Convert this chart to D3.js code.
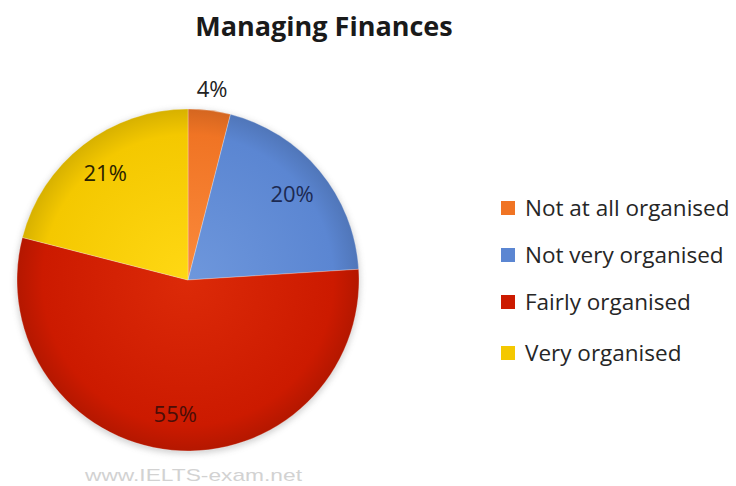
<!DOCTYPE html>
<html>
<head>
<meta charset="utf-8">
<script src="https://cdn.jsdelivr.net/npm/d3@7"></script>
<style>
  html, body { margin: 0; padding: 0; background: #fff; }
  svg { display: block; font-family: "Open Sans", Lato, "DejaVu Sans", sans-serif; }
</style>
</head>
<body>
<svg id="chart" width="736" height="486"></svg>
<script>
// Survey: how organised people are at managing their finances
const categories = ["Not at all organised", "Not very organised", "Fairly organised", "Very organised"];
const values = [4, 20, 55, 21];
const colors = ["#f07424", "#5b86d2", "#cc1a00", "#f4c800"];
const innerColors = ["#fb8a3c", "#6e97dc", "#dc2a08", "#ffd814"];
const labelColors = ["#222222", "#1c2a52", "#4a0e08", "#2a2200"];
const title = "Managing Finances";
const watermark = "www.IELTS-exam.net";

const svg = d3.select("#chart");
const cx = 188, cy = 280, R = 171;

const defs = svg.append("defs");
defs.append("filter").attr("id", "soft")
  .append("feGaussianBlur").attr("stdDeviation", 3);

categories.forEach((c, i) => {
  const g = defs.append("radialGradient").attr("id", "grad" + i)
    .attr("gradientUnits", "userSpaceOnUse")
    .attr("cx", 0).attr("cy", 0).attr("r", R);
  g.append("stop").attr("offset", "0%").attr("stop-color", innerColors[i]);
  g.append("stop").attr("offset", "85%").attr("stop-color", colors[i]);
  g.append("stop").attr("offset", "100%").attr("stop-color", d3.color(colors[i]).darker(0.35));
});

// Title
svg.append("text")
  .attr("x", 324).attr("y", 36)
  .attr("text-anchor", "middle")
  .attr("font-size", 27).attr("font-weight", "bold")
  .attr("fill", "#1a1a1a")
  .text(title);

const pie = d3.pie().sort(null).value(d => d)(values);
const arc = d3.arc().innerRadius(0).outerRadius(R);

const g = svg.append("g").attr("transform", `translate(${cx},${cy})`);

// faint shadow around the pie
g.append("circle").attr("r", R + 1).attr("cy", 2)
  .attr("fill", "#999").attr("opacity", 0.45).attr("filter", "url(#soft)");

g.selectAll("path.slice").data(pie).join("path")
  .attr("class", "slice")
  .attr("d", arc)
  .attr("fill", (d, i) => `url(#grad${i})`)
  .attr("stroke", "#ffffff").attr("stroke-opacity", 0.35).attr("stroke-width", 0.8);

// Value labels: small slice outside, others inside
const inArc = d3.arc().innerRadius(R * 0.79).outerRadius(R * 0.79);
const outArc = d3.arc().innerRadius(R + 21).outerRadius(R + 21);
g.selectAll("text.val").data(pie).join("text")
  .attr("class", "val")
  .attr("transform", d => {
    const p = (d.data < 10 ? outArc : inArc).centroid(d);
    return `translate(${p[0]},${p[1]})`;
  })
  .attr("text-anchor", "middle").attr("dy", "0.35em")
  .attr("font-size", 22)
  .attr("fill", (d, i) => labelColors[i])
  .text(d => d.data + "%");

// Legend
const legend = svg.append("g").attr("transform", "translate(501,208)");
const rows = legend.selectAll("g").data(categories).join("g")
  .attr("transform", (d, i) => `translate(0,${[0, 47, 94, 145][i]})`);
rows.append("rect").attr("x", 0).attr("y", -7).attr("width", 14).attr("height", 14)
  .attr("fill", (d, i) => colors[i]);
rows.append("text").attr("x", 24).attr("dy", "0.36em")
  .attr("font-size", 22.5).attr("fill", "#262626")
  .text(d => d);

// Watermark (wide, light grey)
svg.append("text").attr("x", 85).attr("y", 481)
  .attr("font-family", "Liberation Sans, Arial, sans-serif")
  .attr("font-size", 17).attr("fill", "#d2d2d2")
  .attr("textLength", 217).attr("lengthAdjust", "spacingAndGlyphs")
  .text(watermark);
</script>
</body>
</html>
